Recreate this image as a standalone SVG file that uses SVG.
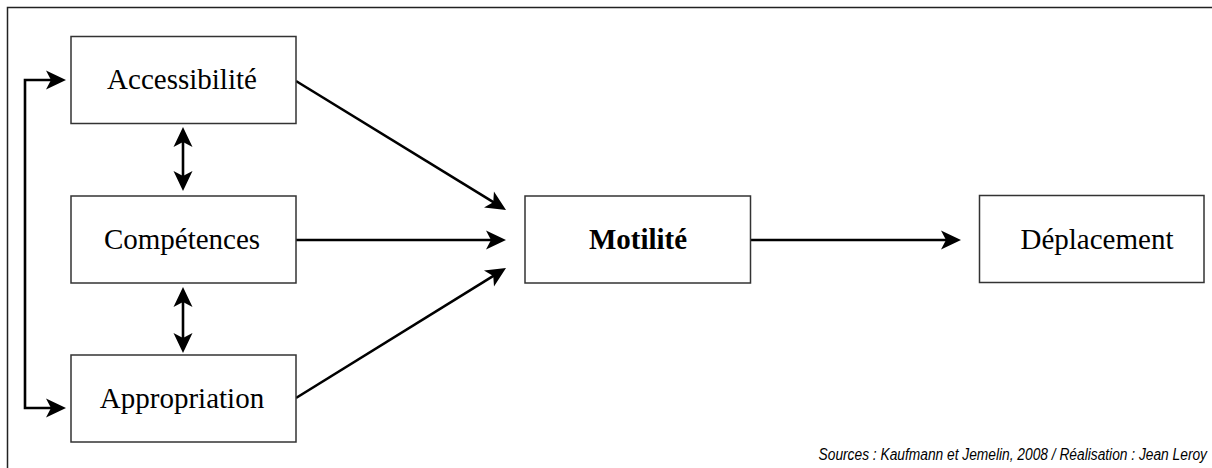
<svg xmlns="http://www.w3.org/2000/svg" width="1212" height="468" viewBox="0 0 1212 468">
<style>
.box{fill:#fff;stroke:#333;stroke-width:1.5}
.lbl{font-family:"Liberation Serif","Times New Roman",serif;font-size:29px;fill:#000;text-anchor:middle}
.con{fill:none;stroke:#000;stroke-width:2.6;marker-end:url(#ah)}
.src{font-family:"Liberation Sans Narrow","Liberation Sans",sans-serif;font-style:italic;font-size:17px;fill:#000;text-anchor:end}
</style>
<defs>
<marker id="ah" markerUnits="userSpaceOnUse" viewBox="-10 -11 24 22" refX="0" refY="0" markerWidth="24" markerHeight="22" orient="auto-start-reverse">
<path d="M12,0 L-8,-9.5 L-3,0 L-8,9.5 Z" fill="#000"/>
</marker>
</defs>
<rect x="0" y="0" width="1212" height="468" fill="#fff"/>
<path d="M7.5,468 V7.5 H1212" fill="none" stroke="#222" stroke-width="1.5"/>
<g id="connectors">
<path class="con" d="M54,80 H25 V408 H54" style="marker-start:url(#ah)"/>
<path class="con" d="M183,139 V179" style="marker-start:url(#ah)"/>
<path class="con" d="M183,299 V341" style="marker-start:url(#ah)"/>
<path class="con" d="M296,81 L495.8,203.7"/>
<path class="con" d="M296,240 L494,240"/>
<path class="con" d="M296,398 L495.8,274.3"/>
<path class="con" d="M751,240 L949,240"/>
</g>
<g id="accessibilite">
<rect class="box" x="71" y="36.5" width="225" height="87"/>
<text class="lbl" x="182" y="89">Accessibilité</text>
</g>
<g id="competences">
<rect class="box" x="71" y="196" width="225" height="87"/>
<text class="lbl" x="182" y="249">Compétences</text>
</g>
<g id="appropriation">
<rect class="box" x="71" y="355" width="225" height="87"/>
<text class="lbl" x="182" y="408">Appropriation</text>
</g>
<g id="motilite">
<rect class="box" x="525" y="196" width="225.5" height="87"/>
<text class="lbl" x="638" y="249" font-weight="bold">Motilité</text>
</g>
<g id="deplacement">
<rect class="box" x="979.5" y="195.5" width="224.5" height="87"/>
<text class="lbl" x="1097" y="249">Déplacement</text>
</g>
<text class="src" transform="translate(1207,460) scale(0.81,1)" x="0" y="0">Sources : Kaufmann et Jemelin, 2008 / Réalisation : Jean Leroy</text>
</svg>
